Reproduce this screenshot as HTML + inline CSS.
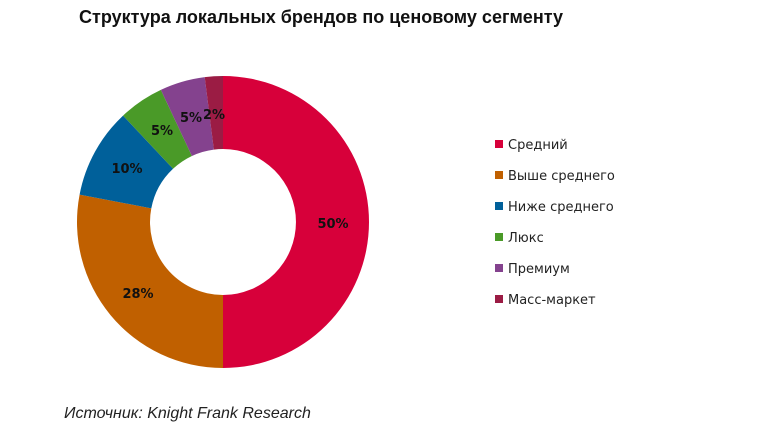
<!DOCTYPE html>
<html><head><meta charset="utf-8"><style>
body{margin:0;background:#fff;width:770px;height:431px;overflow:hidden;font-family:"Liberation Sans",sans-serif}
</style></head><body>
<svg id="s" width="770" height="431" xmlns="http://www.w3.org/2000/svg">
<text x="79" y="23" font-size="18" font-weight="bold" fill="#111" font-family="Liberation Sans, sans-serif" textLength="484" lengthAdjust="spacingAndGlyphs">Структура локальных брендов по ценовому сегменту</text>
<g id="d"></g>
<g font-family="DejaVu Sans, sans-serif" font-size="13" font-weight="bold" fill="#111" text-anchor="middle">
<text x="333" y="228">50%</text>
<text x="138" y="298">28%</text>
<text x="127" y="173">10%</text>
<text x="162" y="135">5%</text>
<text x="191" y="122">5%</text>
<text x="214" y="119">2%</text>
</g>
<g font-family="DejaVu Sans, sans-serif" font-size="13" fill="#222">
<rect x="495" y="140" width="8" height="8" fill="#d7003a"/><text x="508" y="149">Средний</text>
<rect x="495" y="171" width="8" height="8" fill="#c06000"/><text x="508" y="180">Выше среднего</text>
<rect x="495" y="202" width="8" height="8" fill="#00609a"/><text x="508" y="211">Ниже среднего</text>
<rect x="495" y="233" width="8" height="8" fill="#4a9a28"/><text x="508" y="242">Люкс</text>
<rect x="495" y="264" width="8" height="8" fill="#84428e"/><text x="508" y="273">Премиум</text>
<rect x="495" y="295" width="8" height="8" fill="#9b1c44"/><text x="508" y="304">Масс-маркет</text>
</g>
<text x="64" y="418" font-size="16" font-style="italic" fill="#222" font-family="Liberation Sans, sans-serif">Источник: Knight Frank Research</text>
</svg>
<script>
var cx=223,cy=222,R=146,r=73,vals=[50,28,10,5,5,2],cols=["#d7003a","#c06000","#00609a","#4a9a28","#84428e","#9b1c44"];
var a=0,g=document.getElementById("d"),h="";
function p(rad,ang){return [cx+rad*Math.sin(ang),cy-rad*Math.cos(ang)];}
vals.forEach(function(v,i){var b=a+v/100*2*Math.PI,l=(b-a)>Math.PI?1:0;
var A=p(R,a),B=p(R,b),C=p(r,b),D=p(r,a);
h+='<path fill="'+cols[i]+'" d="M'+A+' A'+R+','+R+' 0 '+l+' 1 '+B+' L'+C+' A'+r+','+r+' 0 '+l+' 0 '+D+'Z"/>';a=b;});
g.innerHTML=h;
</script>
</body></html>
